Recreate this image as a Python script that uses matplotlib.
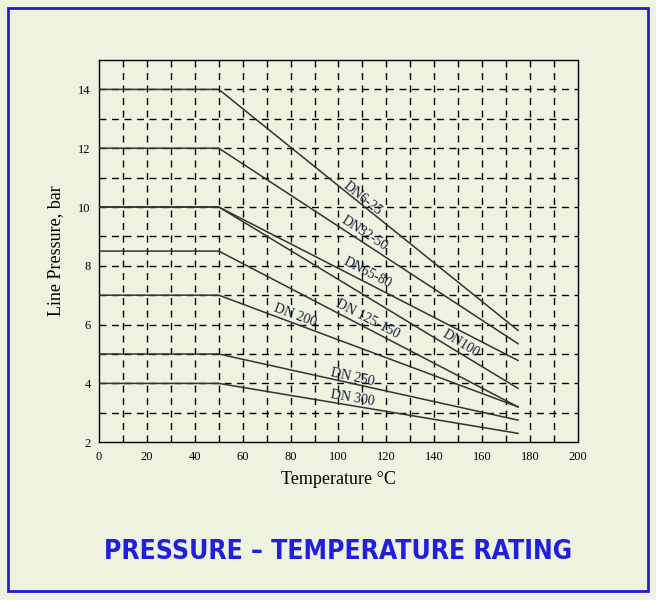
import numpy as np
import matplotlib
matplotlib.use("Agg")
import matplotlib.pyplot as plt
from matplotlib.patches import Rectangle

names = ["DN6-25", "DN32-50", "DN65-80", "DN100", "DN 125-150", "DN 200", "DN 250", "DN 300"]
p_flat = [14, 12, 10, 10, 8.5, 7, 5, 4]
p_end = [5.8, 5.35, 4.78, 3.83, 3.2, 3.2, 2.75, 2.3]
t_knots = [0, 50, 175]
label_x = [110, 111, 112, 151, 112, 82, 106, 106]
label_y = [10.3, 9.1, 7.75, 5.36, 6.2, 6.3, 4.2, 3.5]
x_ticks = list(range(0, 201, 20))
y_ticks = list(range(2, 15, 2))

bg = "#EEF3DF"
fig = plt.figure(figsize=(6.56, 6.0), dpi=100, facecolor=bg)
fig.patches.append(Rectangle((0.012, 0.015), 0.976, 0.972, transform=fig.transFigure,
                             fill=False, edgecolor="#1f1fd0", linewidth=2))
ax = fig.add_axes([0.151, 0.263, 0.730, 0.637])
ax.set_facecolor(bg)
ax.set_xlim(0, 200)
ax.set_ylim(2, 15)
for x in range(10, 200, 10):
    ax.axvline(x, color="black", lw=1.0, ls=(0, (5, 4)), zorder=1)
for y in range(3, 15):
    ax.axhline(y, color="black", lw=1.0, ls=(0, (5, 4)), zorder=1)

for n, a, b, lx, ly in zip(names, p_flat, p_end, label_x, label_y):
    ax.plot(t_knots, [a, a, b], color="#333333", lw=1.1, zorder=3)
    ang = np.degrees(np.arctan2(b - a, t_knots[2] - t_knots[1]))
    ax.text(lx, ly, n, rotation=ang, transform_rotates_text=True, rotation_mode="anchor",
            ha="center", va="center", fontsize=10, family="Liberation Serif",
            color="#1a1a40", zorder=4)

ax.set_xticks(x_ticks)
ax.set_yticks(y_ticks)
ax.tick_params(length=0, labelsize=9, pad=6)
for lab in ax.get_xticklabels() + ax.get_yticklabels():
    lab.set_family("Liberation Serif")
for s in ax.spines.values():
    s.set_linewidth(1.0)
ax.set_xlabel("Temperature °C", family="Liberation Serif", fontsize=13, labelpad=6)
ax.set_ylabel("Line Pressure, bar", family="Liberation Serif", fontsize=13, labelpad=10)
fig.text(0.515, 0.08, "PRESSURE – TEMPERATURE RATING", ha="center", va="center",
         fontsize=19, fontweight="bold", color="#1f1fe0", family="DejaVu Sans",
         fontstretch="condensed")
fig.savefig("out.png", dpi=100, facecolor=bg)
